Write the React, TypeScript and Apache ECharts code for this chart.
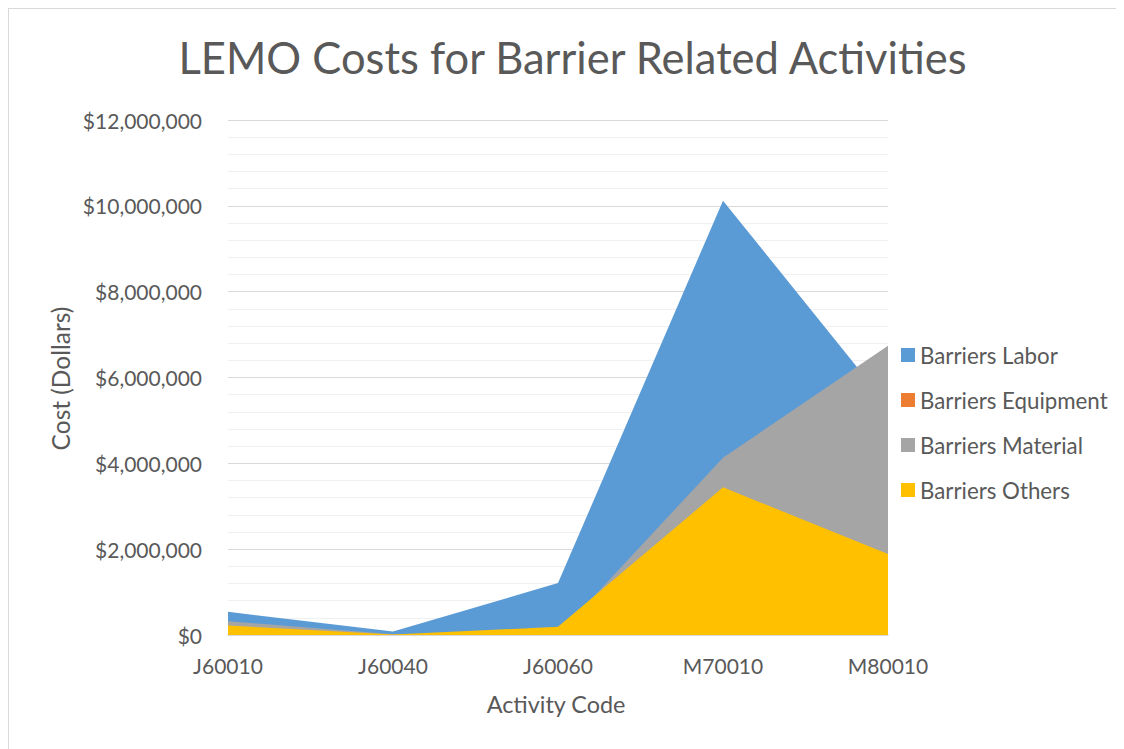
import React, { useEffect, useRef } from "react";
import * as echarts from "echarts";

const categories = ["J60010", "J60040", "J60060", "M70010", "M80010"];
const laborValues = [540000, 80000, 1210000, 10120000, 5350000];
const equipmentValues = [50000, 5000, 50000, 200000, 150000];
const materialValues = [320000, 20000, 0, 4130000, 6740000];
const othersValues = [220000, 10000, 190000, 3440000, 1890000];
const seriesNames = ["Barriers Labor", "Barriers Equipment", "Barriers Material", "Barriers Others"];
const seriesColors = ["#5B9BD5", "#ED7D31", "#A5A5A5", "#FFC000"];
const titleText = "LEMO Costs for Barrier Related Activities";
const xAxisTitle = "Activity Code";
const yAxisTitle = "Cost (Dollars)";

const FONT = "Lato, 'Open Sans', sans-serif";
const TEXT_COLOR = "#595959";

export default function App() {
  const ref = useRef<HTMLDivElement>(null);

  useEffect(() => {
    if (!ref.current) return;
    const chart = echarts.init(ref.current, null, { renderer: "svg" });
    const allValues = [laborValues, equipmentValues, materialValues, othersValues];
    chart.setOption({
      animation: false,
      backgroundColor: "#ffffff",
      textStyle: { fontFamily: FONT },
      graphic: [
        {
          type: "text",
          x: 563.5,
          y: 48,
          style: {
            text: titleText,
            fontFamily: FONT,
            fontSize: 43.5,
            fill: TEXT_COLOR,
            textAlign: "center",
            textVerticalAlign: "middle",
          },
        },
        {
          type: "text",
          x: 547,
          y: 695,
          style: {
            text: xAxisTitle,
            fontFamily: FONT,
            fontSize: 23.4,
            fill: TEXT_COLOR,
            textAlign: "center",
            textVerticalAlign: "middle",
          },
        },
        {
          type: "text",
          x: 51,
          y: 369.5,
          rotation: Math.PI / 2,
          style: {
            text: yAxisTitle,
            fontFamily: FONT,
            fontSize: 24.5,
            fill: TEXT_COLOR,
            textAlign: "center",
            textVerticalAlign: "middle",
          },
        },
      ],
      legend: {
        orient: "vertical",
        left: 887,
        top: 330,
        padding: 5,
        itemWidth: 14,
        itemHeight: 14,
        itemGap: 23,
        icon: "rect",
        data: seriesNames,
        textStyle: {
          fontFamily: FONT,
          fontSize: 22.3,
          lineHeight: 22,
          color: TEXT_COLOR,
        },
      },
      grid: { left: 219, top: 111, width: 660, height: 515, containLabel: false },
      xAxis: {
        type: "category",
        data: categories,
        boundaryGap: false,
        axisLine: { show: true, lineStyle: { color: "#d9d9d9", width: 1.5 } },
        axisTick: { show: false },
        splitLine: { show: false },
        axisLabel: {
          margin: 20,
          fontFamily: FONT,
          fontSize: 21,
          lineHeight: 21,
          color: TEXT_COLOR,
        },
      },
      yAxis: {
        type: "value",
        min: 0,
        max: 12000000,
        interval: 2000000,
        axisLine: { show: false },
        axisTick: { show: false },
        splitLine: { show: true, lineStyle: { color: "#d9d9d9", width: 1 } },
        minorTick: { show: false, splitNumber: 5 },
        minorSplitLine: { show: true, lineStyle: { color: "#f0f0f0", width: 1 } },
        axisLabel: {
          margin: 26,
          fontFamily: FONT,
          fontSize: 21,
          color: TEXT_COLOR,
          formatter: (v: number) => "$" + v.toLocaleString("en-US"),
        },
      },
      series: seriesNames.map((name, i) => ({
        name,
        type: "line",
        data: allValues[i],
        symbol: "none",
        showSymbol: false,
        lineStyle: { width: 0, color: seriesColors[i] },
        itemStyle: { color: seriesColors[i] },
        areaStyle: { color: seriesColors[i], opacity: 1 },
        z: 2 + i,
        emphasis: { disabled: true },
      })),
    });
    return () => chart.dispose();
  }, []);

  return (
    <div
      style={{
        width: 1115,
        height: 740,
        borderTop: "1px solid #d9d9d9",
        borderLeft: "1px solid #d9d9d9",
        background: "#fff",
      }}
    >
      <div ref={ref} style={{ width: 1115, height: 740 }} />
    </div>
  );
}
